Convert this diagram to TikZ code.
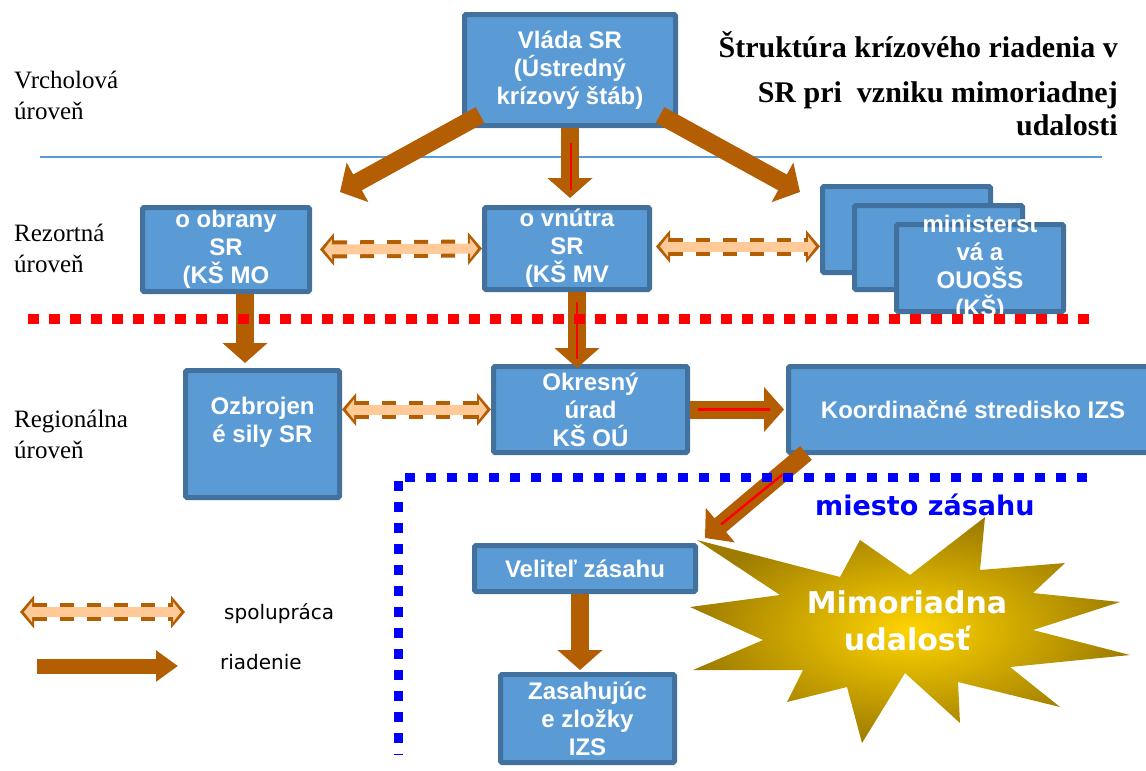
\documentclass[tikz,border=0pt]{standalone}
\usepackage{fontspec}
\setmainfont{Liberation Sans}
\newfontfamily\verd{DejaVu Sans}
\newfontfamily\tms{Liberation Serif}
\usepackage{tikz}
\usetikzlibrary{positioning,arrows.meta}
\definecolor{boxfill}{RGB}{91,155,213}
\definecolor{boxline}{RGB}{65,113,156}
\definecolor{arrowc}{RGB}{180,94,4}
\definecolor{coopc}{RGB}{255,202,152}
\definecolor{starin}{RGB}{255,212,0}
\definecolor{starout}{RGB}{158,124,0}
\definecolor{linec}{RGB}{91,155,213}
\tikzset{
  box/.style={draw=boxline,fill=boxfill,line width=5pt,rounded corners=1.5pt,text=white,
    font=\bfseries\fontsize{24}{28}\selectfont,align=center,inner sep=0pt},
  boxtxt/.style={text=white,font=\bfseries\fontsize{24}{28}\selectfont,align=center,inner sep=0pt},
  lvl/.style={anchor=west,align=left,inner sep=0pt,font=\tms\fontsize{25}{31}\selectfont},
  legtxt/.style={anchor=west,inner sep=0pt,font=\verd\fontsize{20}{24}\selectfont},
  titl/.style={anchor=east,inner sep=0pt,font=\tms\bfseries\fontsize{30}{36}\selectfont},
  riad/.style={draw=arrowc,line width=18pt,-{Triangle[width=44pt,length=20pt]}},
  redln/.style={draw=red,line width=2.5pt},
  coopout/.style={draw=arrowc,line width=18pt,dash pattern=on 14pt off 13pt,
    {Triangle[width=32pt,length=14pt]}-{Triangle[width=32pt,length=14pt]}},
  coopin/.style={draw=coopc,line width=10pt,shorten <=4pt,shorten >=4pt,
    {Triangle[width=20pt,length=8pt]}-{Triangle[width=20pt,length=8pt]}},
}
\newcommand\spolu[2]{\draw[coopout] #1 -- #2; \draw[coopin] #1 -- #2;}

\begin{document}
\begin{tikzpicture}[x=1pt,y=-1pt]
  \clip (0,0) rectangle (1146,771);
  \def\starpath{(690,607) -- (780,595) -- (697,540) -- (840,577) -- (860,540) -- (910,575)
    -- (985,517) -- (980,570) -- (1065,563) -- (1033,593) -- (1120,602) -- (1033,630)
    -- (1130,655) -- (1010,667) -- (1060,707) -- (958,682) -- (960,723) -- (905,673)
    -- (862,743) -- (847,687) -- (787,702) -- (803,670) -- (693,670) -- (763,640) -- cycle}

  % levels
  \node[lvl] (vrch) at (14,95) {Vrcholová\\úroveň};
  \node[lvl] (rez) at (14,248) {Rezortná\\úroveň};
  \node[lvl] (reg) at (14,434) {Regionálna\\úroveň};
  \node[titl] (tit1) at (1118,45) {Štruktúra krízového riadenia v};
  \node[titl] (tit2) at (1118,95) {SR pri\ \ vzniku mimoriadnej};
  \node[titl] (tit3) at (1118,125) {udalosti};

  \draw[linec,line width=1.5pt] (40,157) -- (1102,157);

  % boxes
  \node[box,minimum width=211pt,minimum height=111pt] (vlada) at (570,70) {Vláda SR\\(Ústredný\\krízový štáb)};
  \node[box,minimum width=167pt,minimum height=84pt] (obrana) at (226,249.5) {o obrany\\SR\\(KŠ MO};
  \node[box,minimum width=165pt,minimum height=82pt] (vnutra) at (567,248.5) {o vnútra\\SR\\(KŠ MV};
  \node[box,minimum width=168pt,minimum height=86pt] (min1) at (906.5,229.5) {};
  \node[box,minimum width=168pt,minimum height=84pt] (min2) at (938.5,247.5) {};
  \node[box,minimum width=167pt,minimum height=87pt] (min3) at (980,268) {};
  \node[boxtxt] (mintxt) at (min3.center) {ministerst\\vá a\\OUOŠS\\(KŠ)};
  \node[box,minimum width=154pt,minimum height=127pt] (ozbr) at (262.5,434) {};
  \node[boxtxt] (ozbrtxt) at ([shift={(0,-12)}]ozbr.center) {Ozbrojen\\é sily SR};
  \node[box,minimum width=194pt,minimum height=86pt] (okres) at (590.5,409.5) {Okresný\\úrad\\KŠ OÚ};
  \node[box,minimum width=369pt,minimum height=86pt] (koord) at (973,409.5) {Koordinačné stredisko IZS};
  \node[box,minimum width=221pt,minimum height=46pt] (velitel) at (585,568.5) {Veliteľ zásahu};
  \node[box,minimum width=174pt,minimum height=88pt] (zasah) at (587.5,718.5) {Zasahujúc\\e zložky\\IZS};

  % riadenie
  \draw[riad] ([shift={(18,-13)}]vlada.south west) -- ([shift={(28,-13)}]obrana.north east);
  \draw[riad] (vlada.south) -- ([shift={(3,-7)}]vnutra.north);
  \draw[redln] ([shift={(1,15)}]vlada.south) -- ([shift={(4,-15)}]vnutra.north);
  \draw[riad] ([shift={(-18,-13)}]vlada.south east) -- ([shift={(-20,8)}]min1.north west);
  \draw[riad] ([shift={(19,0)}]obrana.south) -- ([shift={(-17.5,-5)}]ozbr.north);
  \draw[riad] ([shift={(10,0)}]vnutra.south) -- ([shift={(-13.5,4)}]okres.north);
  \draw[redln] ([shift={(10,10)}]vnutra.south) -- ([shift={(-13.5,-5)}]okres.north);
  \draw[riad] (okres.east) -- ([shift={(-2,0)}]koord.west);
  \draw[redln] ([shift={(8,0)}]okres.east) -- ([shift={(-16,0)}]koord.west);
  \draw[riad] ([shift={(20,-2)}]koord.south west) -- ([shift={(7,-5)}]velitel.north east);
  \draw[redln] ([shift={(-3.5,19.5)}]koord.south west) -- ([shift={(23,-18.5)}]velitel.north east);
  \draw[riad] ([shift={(-5,0)}]velitel.south) -- ([shift={(-7.5,-2)}]zasah.north);

  % spolupraca
  \spolu{([shift={(8,0)}]obrana.east)}{(vnutra.west)}
  \coordinate (c2) at (min1.west |- vnutra.east);
  \spolu{([shift={(4,-2)}]vnutra.east)}{([shift={(0,-2)}]c2)}
  \spolu{(ozbr.east |- okres.west)}{(okres.west)}

  \draw[red,line width=10pt,dash pattern=on 11pt off 10pt] (28,319) -- (1092,319);
  \draw[blue,line width=9pt,dash pattern=on 10pt off 11pt] (1087,477) -- (398,477) -- (398,755);
  \node[anchor=west,inner sep=0pt,text=blue,font=\verd\bfseries\fontsize{27}{32}\selectfont] (miesto) at (815,505) {miesto zásahu};

  % mimoriadna udalost
  \shade[inner color=starin,outer color=starout] \starpath;
  \node[text=white,align=center,inner sep=0pt,font=\verd\bfseries\fontsize{30}{37}\selectfont] (mim) at (907,621) {Mimoriadna\\udalosť};

  % legenda
  \coordinate (s1) at (20,612);
  \coordinate (s2) at (185,612);
  \spolu{(s1)}{(s2)}
  \node[legtxt] (lsp) at (224,614) {spolupráca};
  \coordinate (r1) at (37,666);
  \coordinate (r2) at (178,666);
  \draw[riad,line width=15pt,-{Triangle[width=30pt,length=22pt]}] (r1) -- (r2);
  \node[legtxt] (lri) at (220,662) {riadenie};
\end{tikzpicture}
\end{document}
